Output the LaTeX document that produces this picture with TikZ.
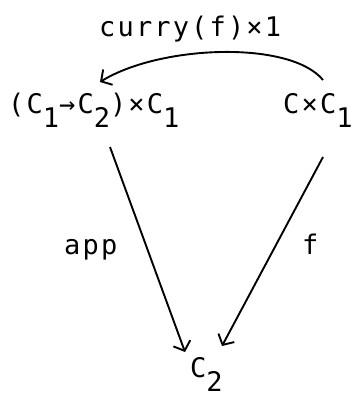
\documentclass[tikz,border=0pt]{standalone}
\usepackage{fontspec}
\setmonofont[LetterSpace=8]{DejaVu Sans Mono}
\usetikzlibrary{arrows.meta}
\newcommand{\lsub}[1]{\raisebox{-14pt}{#1}}
\tikzset{
  lbl/.style={inner sep=0pt, anchor=base west, font=\ttfamily\fontsize{27}{30}\selectfont},
  arr/.style={line width=1.9pt, -{Straight Barb[length=8pt,width=18pt,line width=1.9pt]}}
}
\begin{document}
\begin{tikzpicture}[x=1pt,y=-1pt]
\useasboundingbox (0,0) rectangle (358,396);
\node[lbl] (top) at (99,37) {curry(f)×1};
\node[lbl] (L) at (8,113) {(C\lsub{1}→C\lsub{2})×C\lsub{1}};
\node[lbl] (R) at (283,113) {C×C\lsub{1}};
\node[lbl] (B) at (190,377) {C\lsub{2}};
\node[lbl] (app) at (64,254) {app};
\node[lbl] (f) at (302,254) {f};
\coordinate (cs) at (323,80);
\coordinate (ct) at (100,82);
\coordinate (ls) at (110,147);
\coordinate (lt) at (185,352);
\coordinate (rs) at (323,157);
\coordinate (rt) at (222,346);
\draw[arr] (cs) .. controls (290,40) and (160,45) .. (ct);
\draw[arr] (ls) -- (lt);
\draw[arr] (rs) -- (rt);
\end{tikzpicture}
\end{document}
